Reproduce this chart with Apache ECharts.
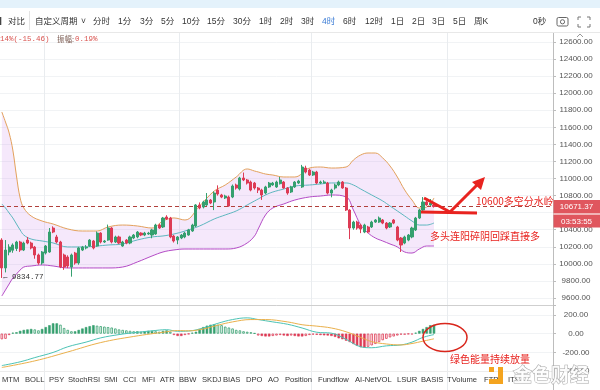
<!DOCTYPE html>
<html><head><meta charset="utf-8">
<script src="https://cdn.jsdelivr.net/npm/echarts@6/dist/echarts.min.js"></script>
<style>html,body{margin:0;padding:0;background:#fff}#c{width:600px;height:390px}</style>
</head><body><div id="c"></div>
<script>
// ---------- data ----------
const slotCount = 151;
const lastPrice = 10671.37;
const lowPrice = 9834.77;
// [open, close, low, high]
const candles = [
[10279,9952,9834.77,10300],[9952,10162,9900,10279],[10139,10197,10100,10230],[10160,10221,10130,10240],
[10180,10256,10150,10270],[10256,10162,10140,10270],[10162,10244,10150,10260],[10279,10244,10230,10315],
[10244,10186,10170,10260],[10197,10104,10060,10210],[10104,10010,9990,10120],[10010,10139,9990,10150],
[10127,10209,10110,10220],[10139,10373,10130,10420],[10420,10373,10360,10440],[10315,10256,10240,10340],
[10256,9963,9950,10270],[10104,9963,9930,10120],[10080,9975,9950,10100],[9963,10104,9850,10120],
[10127,10010,9990,10140],[10010,10186,9990,10200],[10162,10197,10150,10210],[10186,10197,10170,10220],
[10209,10279,10200,10290],[10268,10186,10170,10280],[10209,10361,10200,10380],[10361,10256,10240,10370],
[10256,10268,10245,10280],[10279,10420,10270,10460],[10420,10256,10240,10430],[10256,10315,10245,10330],
[10315,10244,10230,10330],[10209,10256,10200,10270],[10279,10244,10230,10290],[10244,10315,10230,10330],
[10303,10338,10290,10350],[10315,10373,10300,10385],[10361,10338,10325,10370],[10338,10361,10325,10375],
[10350,10361,10340,10375],[10338,10397,10300,10410],[10350,10455,10340,10470],[10455,10420,10410,10470],
[10432,10537,10420,10550],[10549,10525,10515,10570],[10537,10315,10300,10550],[10326,10268,10250,10340],
[10279,10315,10230,10325],[10303,10338,10290,10350],[10315,10361,10300,10375],[10338,10397,10330,10410],
[10385,10455,10375,10470],[10443,10690,10430,10700],[10690,10655,10640,10720],[10666,10725,10650,10740],
[10690,10748,10680,10830],[10748,10713,10700,10760],[10725,10830,10630,10850],[10865,10819,10800,10920],
[10807,10783,10770,10820],[10772,10795,10760,10810],[10783,10678,10670,10800],[10783,10912,10770,10930],
[10924,10889,10870,10940],[10877,11006,10860,11020],[11006,10983,10970,11070],[10983,10947,10930,10995],
[10959,10865,10850,10975],[10947,10889,10870,10960],[10889,10865,10830,10900],[10865,10807,10750,10880],
[10830,10901,10815,10915],[10901,10947,10890,10960],[10924,10947,10915,10960],[10901,10959,10890,10975],
[10940,10983,10930,11018],[10959,10889,10880,10970],[10889,10830,10810,10900],[10842,10901,10830,10915],
[10901,10959,10890,10970],[10947,10971,10935,10985],[10901,11135,10890,11160],[11123,11076,11060,11150],
[11100,11041,11030,11115],[11041,11076,11030,11090],[11076,10947,10935,11090],[10947,10959,10935,10975],
[10947,10960,10940,10980],[10947,10830,10815,10960],[10830,10865,10780,10880],[10889,10924,10870,10940],
[10924,10959,10910,10975],[10959,10889,10880,10970],[10889,10631,10620,10900],[10631,10420,10290,10640],
[10420,10490,10400,10505],[10490,10420,10400,10505],[10455,10408,10360,10470],[10373,10455,10360,10470],
[10432,10373,10360,10445],[10432,10490,10420,10505],[10490,10514,10480,10525],[10490,10537,10480,10555],
[10514,10478,10465,10525],[10478,10420,10405,10490],[10432,10478,10420,10490],[10514,10478,10465,10525],
[10432,10279,10265,10445],[10303,10221,10139,10315],[10244,10315,10230,10330],[10279,10338,10265,10350],
[10315,10420,10300,10435],[10397,10537,10385,10550],[10537,10631,10525,10645],[10631,10725,10620,10783],
[10725,10690,10680,10740],[10690,10713,10680,10760],[10690,10671.37,10660,10720]
];
const bandIdx = [0,1,2,3,4,5,6,8,11,14,18,22,26,29,33,37,41,44,47,50,54,58,61,64,67,69,70,72,74,77,80,84,87,90,94,96,98,100,102,104,106,108,110,112,114,116,118];
const bandUpper = [11780,11662,11534,11334,11030,10772,10655,10561,10502,10467,10409,10385,10385,10432,10455,10444,10420,10502,10538,10514,10678,10854,10924,11018,11112,11088,11077,11053,11041,11018,11018,11123,11135,11123,11135,11217,11276,11299,11299,11241,11147,11018,10866,10748,10655,10666,10772];
const bandMid = [10702,10655,10596,10538,10467,10397,10338,10291,10268,10245,10198,10198,10209,10221,10233,10280,10315,10327,10350,10385,10444,10526,10573,10620,10690,10737,10760,10807,10842,10877,10912,10924,10936,10948,10948,10924,10877,10830,10784,10737,10678,10620,10561,10502,10455,10455,10479];
const bandLower = [9623,9694,9764,9834,9881,9928,9963,9975,9987,9975,9952,9952,9952,9952,9963,10022,10092,10139,10163,10174,10174,10174,10174,10186,10245,10327,10409,10573,10655,10702,10748,10784,10795,10807,10784,10631,10455,10362,10303,10268,10233,10198,10139,10127,10174,10209,10209];
const macdHist = [-60,-55,-15,10,15,30,40,45,50,45,35,50,70,90,110,110,95,60,40,25,25,40,55,70,80,90,85,80,75,70,
65,55,45,40,35,30,25,25,20,25,30,30,25,20,30,35,20,-15,-25,-25,-15,-5,10,20,50,70,85,95,100,95,
90,75,65,55,40,35,25,20,15,5,-20,-25,-30,-30,-25,-20,-15,-20,-25,-20,-25,-30,-30,-25,-15,-10,-12,-15,-18,-20,
-25,-35,-50,-60,-75,-90,-110,-130,-145,-150,-140,-125,-110,-90,-70,-55,-40,-30,-20,-10,-10,-5,-8,10,30,50,70,90,95];
const difPts = [[0,-340],[5,-300],[9,-255],[14,-200],[18,-140],[23,-90],[27,-45],[32,-10],[36,10],[41,30],[45,42],[48,25],[51,28],[55,60],[59,110],[63,150],[67,168],[70,150],[74,125],[78,100],[82,60],[86,15],[90,5],[94,-60],[98,-140],[101,-150],[105,-130],[109,-120],[112,-90],[115,-40],[118,-10]];
const deaPts = [[0,-360],[9,-290],[18,-195],[27,-95],[36,-30],[45,20],[48,33],[51,30],[55,50],[59,90],[63,125],[68,150],[72,150],[78,125],[82,95],[86,80],[90,60],[94,20],[98,-40],[101,-85],[105,-110],[109,-120],[112,-105],[115,-80],[118,-55]];
const toolbarLabels = ['对比','自定义周期','˅','分时','1分','3分','5分','10分','15分','30分','1时','2时','3时','4时','6时','12时','1日','2日','3日','5日','周K','0秒'];
const activePeriod = '4时';
const indicatorLabels = ['MTM','BOLL','PSY','StochRSI','SMI','CCI','MFI','ATR','BBW','SKDJ','BIAS','DPO','AO','Position','Fundflow','AI-NetVOL','LSUR','BASIS','TVolume','FTPS','ITS'];
const infoChange = '14%(-15.46)';
const infoAmpLabel = '振幅:';
const infoAmp = '0.19%';
const countdown = '03:53:55';
const note1 = '10600多空分水岭';
const note2 = '多头连阳碎阴回踩直接多';
const note3 = '绿色能量持续放量';
const watermark = '金色财经';

// ---------- layout (positions only) ----------
const toolbarX = [8,35,81,93,118,140,161,182,207,233,259,280,301,322,343,365,391,412,432,453,474,533];
const indicatorX = [2,25,49,68,104,123,142,160,179,202,223,246,268,285,318,355,397,421,447,484,508];
const vLineIdx = [12,49,85,122];

const cats = Array.from({length: slotCount}, (_, i) => String(i));
const UP = '#35a06f', DOWN = '#dd3b55';
const CJK = '"Liberation Sans","Noto Sans CJK SC",sans-serif';

const histData = macdHist.map((v, i) => {
  const p = i > 0 ? macdHist[i-1] : 0;
  const grow = Math.abs(v) >= Math.abs(p) && (v >= 0) === (p >= 0);
  const c = v >= 0 ? UP : DOWN;
  return {value: v, itemStyle: grow ? {color: c, borderColor: c, borderWidth: 0.6}
                                    : {color: '#ffffff', borderColor: c, borderWidth: 0.8}};
});

const g = [];
const Z = 100;
g.push({type:'rect', z:Z, shape:{x:0,y:0,width:600,height:8}, style:{fill:'#e4f2fb'}});
g.push({type:'rect', z:Z, shape:{x:0,y:8,width:600,height:24.5}, style:{fill:'#ffffff'}});
g.push({type:'line', z:Z+1, shape:{x1:0,y1:32.5,x2:600,y2:32.5}, style:{stroke:'#e8e8e8',lineWidth:1}});
g.push({type:'rect', z:Z+1, shape:{x:0,y:17,width:1.3,height:8}, style:{fill:'#444'}});
g.push({type:'line', z:Z+1, shape:{x1:29.5,y1:11,x2:29.5,y2:30}, style:{stroke:'#e3e3e3',lineWidth:1}});
toolbarLabels.forEach((t, k) => {
  g.push({type:'text', z:Z+2, x:toolbarX[k], y:21.5, style:{text:t, font:'8.5px '+CJK,
    fill: t === activePeriod ? '#3a7bd5' : '#333', verticalAlign:'middle'}});
});
// camera icon
g.push({type:'rect', z:Z+2, shape:{x:557,y:17.5,width:11,height:8.5,r:1.5}, style:{fill:'none',stroke:'#666',lineWidth:1}});
g.push({type:'circle', z:Z+2, shape:{cx:562.5,cy:21.8,r:2.1}, style:{fill:'none',stroke:'#666',lineWidth:1}});
// fullscreen icon
[[[578,20],[578,17],[581,17]],[[587,17],[590,17],[590,20]],[[578,24],[578,27],[581,27]],[[587,27],[590,27],[590,24]]]
  .forEach(pts => g.push({type:'polyline', z:Z+2, shape:{points:pts}, style:{fill:'none',stroke:'#777',lineWidth:1}}));
// chevron at top of price axis
g.push({type:'polyline', z:Z+2, shape:{points:[[577,37],[580,34],[583,37]]}, style:{fill:'none',stroke:'#999',lineWidth:1}});
// info row
g.push({type:'text', z:Z, x:0, y:39.5, style:{text:infoChange, font:'7.5px "Liberation Mono",monospace', fill:'#d9534f', verticalAlign:'middle'}});
g.push({type:'text', z:Z, x:57, y:39.5, style:{text:infoAmpLabel, font:'7.5px "Noto Sans CJK SC"', fill:'#7a5a50', verticalAlign:'middle'}});
g.push({type:'text', z:Z, x:75, y:39.5, style:{text:infoAmp, font:'7.5px "Liberation Mono",monospace', fill:'#d9534f', verticalAlign:'middle'}});
// low label
g.push({type:'text', z:Z, x:3, y:277.5, style:{text:'← ' + lowPrice.toFixed(2), font:'7.5px "Liberation Mono",monospace', fill:'#333', verticalAlign:'middle'}});
// separators
g.push({type:'line', z:Z, shape:{x1:0,y1:305.5,x2:553,y2:305.5}, style:{stroke:'#cfcfcf',lineWidth:1}});
g.push({type:'line', z:Z, shape:{x1:0,y1:371.5,x2:553,y2:371.5}, style:{stroke:'#ececec',lineWidth:1}});
// price boxes
g.push({type:'rect', z:Z, shape:{x:553.5,y:200,width:47,height:13}, style:{fill:'#e0565e'}});
g.push({type:'rect', z:Z, shape:{x:553.5,y:213,width:47,height:2}, style:{fill:'#f1b3b6'}});
g.push({type:'rect', z:Z, shape:{x:553.5,y:215,width:47,height:12.5}, style:{fill:'#e0565e'}});
g.push({type:'text', z:Z+1, x:576.5, y:206.8, style:{text:lastPrice.toFixed(2), font:'8px "Liberation Sans"', fill:'#fff', align:'center', verticalAlign:'middle'}});
g.push({type:'text', z:Z+1, x:576.5, y:221.3, style:{text:countdown, font:'8px "Liberation Sans"', fill:'#fff', align:'center', verticalAlign:'middle'}});
// red annotations
const RED = '#e8231f';
g.push({type:'polyline', z:50, shape:{points:[[424,198],[450,212],[479,183]]}, style:{fill:'none',stroke:RED,lineWidth:3,lineJoin:'miter'}});
g.push({type:'polygon', z:50, shape:{points:[[485,177],[481,190],[472,182]]}, style:{fill:RED}});
g.push({type:'line', z:50, shape:{x1:421,y1:212,x2:477,y2:213}, style:{stroke:RED,lineWidth:3}});
g.push({type:'text', z:51, x:476, y:201, style:{text:note1, font:'10px "Noto Sans CJK SC"', fill:RED, verticalAlign:'middle'}});
g.push({type:'text', z:51, x:430, y:236.5, style:{text:note2, font:'10px "Noto Sans CJK SC"', fill:RED, verticalAlign:'middle'}});
g.push({type:'ellipse', z:50, shape:{cx:445,cy:337.5,rx:22,ry:14}, style:{fill:'none',stroke:'#d9261c',lineWidth:1.5}});
g.push({type:'text', z:51, x:450, y:359.5, style:{text:note3, font:'10px "Noto Sans CJK SC"', fill:RED, verticalAlign:'middle'}});
// bottom indicator bar
indicatorLabels.forEach((t, k) => {
  g.push({type:'text', z:Z, x:indicatorX[k], y:379.5, style:{text:t, font:'7.6px "Liberation Sans"', fill:'#333', verticalAlign:'middle'}});
});
// watermark
const OR = '#f4a41f';
g.push({type:'rect', z:Z+5, shape:{x:489,y:367,width:5,height:5}, style:{fill:OR}});
g.push({type:'rect', z:Z+5, shape:{x:498,y:367,width:5,height:17}, style:{fill:OR}});
g.push({type:'rect', z:Z+5, shape:{x:489,y:379,width:14,height:5}, style:{fill:OR}});
g.push({type:'text', z:Z+5, x:513, y:375, style:{text:watermark, font:'bold 19px "Noto Sans CJK SC"', fill:'rgba(255,255,255,0.9)', stroke:'#a8a8a8', lineWidth:1, verticalAlign:'middle'}});

const chart = echarts.init(document.getElementById('c'), null, {renderer:'canvas', width:600, height:390});
const splitV = {show:true, interval:(idx) => vLineIdx.includes(idx), lineStyle:{color:'#e9ecef', width:1}};
chart.setOption({
  animation:false,
  backgroundColor:'#ffffff',
  grid:[
    {left:0, right:47, top:24.93, height:290.13, containLabel:false, outerBoundsMode:'none'},
    {left:0, right:47, top:305, height:85, containLabel:false, outerBoundsMode:'none'}
  ],
  xAxis:[
    {type:'category', gridIndex:0, data:cats, boundaryGap:true, axisLine:{show:false}, axisTick:{show:false}, axisLabel:{show:false}, splitLine:splitV},
    {type:'category', gridIndex:1, data:cats, boundaryGap:true, axisLine:{show:false}, axisTick:{show:false}, axisLabel:{show:false}, splitLine:splitV}
  ],
  yAxis:[
    {type:'value', gridIndex:0, position:'right', min:9400, max:12800, interval:200,
     axisLine:{show:true, lineStyle:{color:'#bdbdbd'}}, axisTick:{show:true, length:3, lineStyle:{color:'#bdbdbd'}},
     axisLabel:{show:true, margin:23, align:'center', fontSize:8, fontFamily:'Liberation Sans', color:'#555',
       formatter:(v) => (v >= 9600 && v <= 12600) ? v.toFixed(2) : ''},
     splitLine:{show:true, lineStyle:{color:'#f1f3f5'}}},
    {type:'value', gridIndex:1, position:'right', min:-600, max:305, interval:200,
     axisLine:{show:true, lineStyle:{color:'#bdbdbd'}}, axisTick:{show:true, length:3, lineStyle:{color:'#bdbdbd'}},
     axisLabel:{show:true, margin:23, align:'center', fontSize:8, fontFamily:'Liberation Sans', color:'#555',
       formatter:(v) => (v >= -400 && v <= 200) ? v.toFixed(2) : ''},
     splitLine:{show:true, lineStyle:{color:'#f1f3f5'}}}
  ],
  series:[
    {type:'line', xAxisIndex:0, yAxisIndex:0, stack:'band', smooth:0.4, symbol:'none', silent:true, z:1,
     lineStyle:{opacity:0}, data: bandIdx.map((k, j) => [k, bandLower[j]])},
    {type:'line', xAxisIndex:0, yAxisIndex:0, stack:'band', smooth:0.4, symbol:'none', silent:true, z:1,
     lineStyle:{opacity:0}, areaStyle:{color:'rgba(205,140,235,0.28)'}, data: bandIdx.map((k, j) => [k, bandUpper[j] - bandLower[j]])},
    {type:'line', xAxisIndex:0, yAxisIndex:0, smooth:0.4, symbol:'none', z:2, lineStyle:{color:'#e3a15c', width:1},
     data: bandIdx.map((k, j) => [k, bandUpper[j]])},
    {type:'line', xAxisIndex:0, yAxisIndex:0, smooth:0.4, symbol:'none', z:2, lineStyle:{color:'#5db7bf', width:1},
     data: bandIdx.map((k, j) => [k, bandMid[j]])},
    {type:'line', xAxisIndex:0, yAxisIndex:0, smooth:0.4, symbol:'none', z:2, lineStyle:{color:'#b44bc6', width:1},
     data: bandIdx.map((k, j) => [k, bandLower[j]])},
    {type:'candlestick', xAxisIndex:0, yAxisIndex:0, z:5, barWidth:'70%', data:candles,
     itemStyle:{color:UP, color0:DOWN, borderColor:UP, borderColor0:DOWN, borderWidth:1},
     markLine:{silent:true, symbol:['none','none'], label:{show:false},
       lineStyle:{color:'#b1403c', type:[4,3], width:1}, data:[{yAxis:lastPrice}]}},
    {type:'bar', xAxisIndex:1, yAxisIndex:1, barWidth:'68%', data:histData, z:3},
    {type:'line', xAxisIndex:1, yAxisIndex:1, smooth:0.4, symbol:'none', z:4, lineStyle:{color:'#4cc3b5', width:1}, data:difPts},
    {type:'line', xAxisIndex:1, yAxisIndex:1, smooth:0.4, symbol:'none', z:4, lineStyle:{color:'#eab04b', width:1}, data:deaPts}
  ],
  graphic:{elements:g}
});
</script></body></html>
